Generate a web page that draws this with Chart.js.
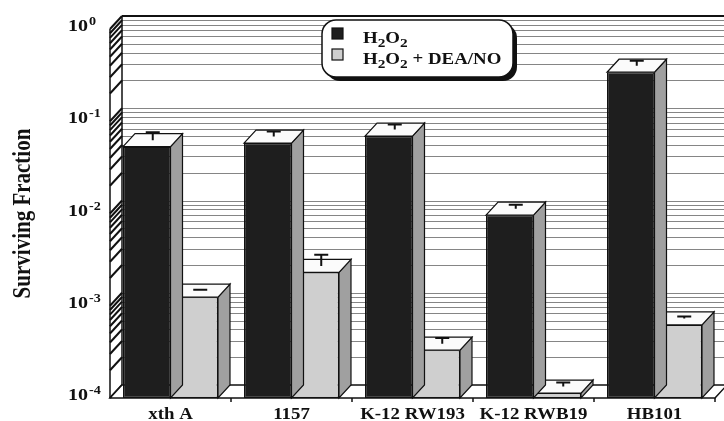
<!DOCTYPE html>
<html>
<head>
<meta charset="utf-8">
<script src="https://cdn.jsdelivr.net/npm/chart.js@4/dist/chart.umd.min.js"></script>
<style>
  html, body { margin: 0; padding: 0; background: #fff; }
  canvas { display: block; }
</style>
</head>
<body>
<canvas id="c" width="724" height="421"></canvas>
<script>
// Strains tested
const categories = ['xth A', '1157', 'K-12 RW193', 'K-12 RWB19', 'HB101'];
// Surviving fraction after H2O2 alone
const h2o2 = [0.053, 0.058, 0.069, 0.0096, 0.34];
const h2o2Err = [0.0116, 0.0077, 0.0092, 0.001, 0.045];
// Surviving fraction after H2O2 + DEA/NO
const h2o2DeaNo = [0.00124, 0.0023, 0.00033, 0.000113, 0.00062];
const h2o2DeaNoErr = [0.00003, 0.00073, 0.00005, 0.000012, 0.00003];
// Decade exponents shown on the y axis (10^n)
const yTickExponents = [0, -1, -2, -3, -4];
const seriesLabels = ['H\u2082O\u2082', 'H\u2082O\u2082 + DEA/NO'];

const SERIF = '"Liberation Serif", "Times New Roman", serif';
const STRETCH = 1.18;      // wide lettering
const DX = 12, DY = 13;    // depth offset of the 3-D boxes
const errorSets = [h2o2Err, h2o2DeaNoErr];

function stretchedText(ctx, text, x, y, size, align) {
  ctx.save();
  ctx.font = `bold ${size}px ${SERIF}`;
  ctx.textBaseline = 'alphabetic';
  ctx.textAlign = align || 'left';
  ctx.translate(x, y);
  ctx.scale(STRETCH, 1);
  ctx.fillText(text, 0, 0);
  ctx.restore();
}

// Left-aligned text where "₂" is set as a lowered, smaller 2
function chemText(ctx, text, x, y, size) {
  ctx.save();
  ctx.translate(x, y);
  ctx.scale(STRETCH, 1);
  ctx.textBaseline = 'alphabetic';
  ctx.textAlign = 'left';
  let cx = 0;
  for (const ch of text) {
    if (ch === '\u2082') {
      ctx.font = `bold ${Math.round(size * 0.82)}px ${SERIF}`;
      ctx.fillText('2', cx, 4);
      cx += ctx.measureText('2').width;
    } else {
      ctx.font = `bold ${size}px ${SERIF}`;
      ctx.fillText(ch, cx, 0);
      cx += ctx.measureText(ch).width;
    }
  }
  ctx.restore();
}

function poly(ctx, pts, fill, stroke, lw) {
  ctx.beginPath();
  ctx.moveTo(pts[0][0], pts[0][1]);
  for (let i = 1; i < pts.length; i++) ctx.lineTo(pts[i][0], pts[i][1]);
  ctx.closePath();
  if (fill) { ctx.fillStyle = fill; ctx.fill(); }
  if (stroke) { ctx.strokeStyle = stroke; ctx.lineWidth = lw || 1; ctx.stroke(); }
}

function roundRect(ctx, x, y, w, h, r) {
  ctx.beginPath();
  ctx.moveTo(x + r, y);
  ctx.lineTo(x + w - r, y);
  ctx.arcTo(x + w, y, x + w, y + r, r);
  ctx.lineTo(x + w, y + h - r);
  ctx.arcTo(x + w, y + h, x + w - r, y + h, r);
  ctx.lineTo(x + r, y + h);
  ctx.arcTo(x, y + h, x, y + h - r, r);
  ctx.lineTo(x, y + r);
  ctx.arcTo(x, y, x + r, y, r);
  ctx.closePath();
}

const boxPlugin = {
  id: 'box3d',
  beforeDatasetsDraw(chart) {
    const { ctx, chartArea: a, scales: { x, y } } = chart;
    const lo = Math.min(...yTickExponents), hi = Math.max(...yTickExponents);
    const steps = [];
    for (let e = lo; e < hi; e++) for (let k = 1; k < 10; k++) steps.push(k * Math.pow(10, e));
    steps.push(Math.pow(10, hi));

    ctx.save();
    // back wall grid, one line per log step
    ctx.strokeStyle = '#858585';
    ctx.lineWidth = 1;
    steps.forEach(v => {
      const py = Math.round(y.getPixelForValue(v) - DY) + 0.5;
      ctx.beginPath();
      ctx.moveTo(a.left + DX, py);
      ctx.lineTo(chart.width, py);
      ctx.stroke();
    });
    // hatched left wall
    ctx.strokeStyle = '#111';
    ctx.lineWidth = 2;
    steps.forEach(v => {
      const py = y.getPixelForValue(v);
      ctx.beginPath();
      ctx.moveTo(a.left, py);
      ctx.lineTo(a.left + DX, py - DY);
      ctx.stroke();
    });
    ctx.lineWidth = 1.5;
    ctx.beginPath();
    ctx.moveTo(a.left, a.top); ctx.lineTo(a.left, a.bottom);
    ctx.moveTo(a.left + DX, a.top - DY); ctx.lineTo(a.left + DX, a.bottom - DY);
    ctx.stroke();
    // top edge of the wall
    ctx.lineWidth = 2;
    ctx.beginPath();
    ctx.moveTo(a.left + DX, a.top - DY);
    ctx.lineTo(chart.width, a.top - DY);
    ctx.stroke();
    // floor
    poly(ctx, [[a.left, a.bottom], [a.right, a.bottom], [a.right + DX, a.bottom - DY], [a.left + DX, a.bottom - DY]], '#fff', '#111', 1.5);
    // tick marks between categories on the floor edge
    ctx.lineWidth = 1.5;
    for (let i = 0; i < categories.length; i++) {
      const px = i < categories.length - 1
        ? (x.getPixelForValue(i) + x.getPixelForValue(i + 1)) / 2
        : a.right;
      ctx.beginPath();
      ctx.moveTo(px, a.bottom);
      ctx.lineTo(px, a.bottom + 4);
      ctx.stroke();
    }
    ctx.restore();
  },
  afterDatasetDraw(chart, args) {
    const { ctx } = chart;
    const y = chart.scales.y;
    const errs = errorSets[args.index];
    const ds = chart.data.datasets[args.index];
    ctx.save();
    args.meta.data.forEach((bar, i) => {
      const p = bar.getProps(['x', 'y', 'base', 'width'], true);
      const xl = p.x - p.width / 2, xr = p.x + p.width / 2;
      // side face
      poly(ctx, [[xr, p.y], [xr + DX, p.y - DY], [xr + DX, p.base - DY], [xr, p.base]], '#a0a0a0', '#111', 1.2);
      // top face
      poly(ctx, [[xl, p.y], [xr, p.y], [xr + DX, p.y - DY], [xl + DX, p.y - DY]], '#fbfbfb', '#111', 1.2);
      // error bar on the centre of the top face
      const cx = p.x + DX / 2;
      const y0 = p.y - DY / 2;
      const y1 = y.getPixelForValue(ds.data[i] + errs[i]) - DY / 2;
      ctx.strokeStyle = '#111';
      ctx.lineWidth = 2;
      ctx.beginPath();
      ctx.moveTo(cx, y0); ctx.lineTo(cx, y1);
      ctx.moveTo(cx - 7, y1); ctx.lineTo(cx + 7, y1);
      ctx.stroke();
    });
    ctx.restore();
  },
  afterDraw(chart) {
    const { ctx, chartArea: a, scales: { x, y } } = chart;
    ctx.save();
    ctx.fillStyle = '#111';
    // y tick labels 10^n
    yTickExponents.forEach(e => {
      const py = y.getPixelForValue(Math.pow(10, e)) + 2;
      stretchedText(ctx, '10', 68, py, 17, 'left');
      stretchedText(ctx, String(e), 89, py - 6, 12, 'left');
    });
    // category labels
    categories.forEach((c, i) => {
      stretchedText(ctx, c, x.getPixelForValue(i), 419, 16, 'center');
    });
    // y axis title
    ctx.save();
    ctx.translate(30, (a.top + a.bottom) / 2);
    ctx.rotate(-Math.PI / 2);
    ctx.scale(1, STRETCH);
    ctx.font = `bold 21px ${SERIF}`;
    ctx.textAlign = 'center';
    ctx.textBaseline = 'alphabetic';
    ctx.fillText('Surviving Fraction', 0, 0);
    ctx.restore();

    // legend box with drop shadow
    const lx = 322, ly = 20, lw = 191, lh = 57, r = 14;
    roundRect(ctx, lx + 4, ly + 4, lw, lh, r);
    ctx.fillStyle = '#111';
    ctx.fill();
    roundRect(ctx, lx, ly, lw, lh, r);
    ctx.fillStyle = '#fff';
    ctx.fill();
    ctx.strokeStyle = '#111';
    ctx.lineWidth = 1.5;
    ctx.stroke();
    chart.data.datasets.forEach((ds, i) => {
      const base = 43 + i * 21;
      ctx.fillStyle = ds.backgroundColor;
      ctx.fillRect(332, base - 15, 11, 11);
      ctx.strokeStyle = '#111';
      ctx.lineWidth = 1.2;
      ctx.strokeRect(332, base - 15, 11, 11);
      ctx.fillStyle = '#111';
      chemText(ctx, ds.label, 363, base, 16);
    });
    ctx.restore();
  }
};

new Chart(document.getElementById('c'), {
  type: 'bar',
  data: {
    labels: categories,
    datasets: [
      { label: seriesLabels[0], data: h2o2, backgroundColor: '#1e1e1e' },
      { label: seriesLabels[1], data: h2o2DeaNo, backgroundColor: '#cfcfcf' }
    ]
  },
  options: {
    responsive: false,
    animation: false,
    layout: { padding: { left: 110, right: 9, top: 29, bottom: 23 } },
    datasets: {
      bar: {
        categoryPercentage: 0.785,
        barPercentage: 1,
        borderColor: '#111',
        borderWidth: 1.2,
        borderSkipped: false,
        clip: false
      }
    },
    scales: {
      x: { display: false },
      y: { type: 'logarithmic', min: 1e-4, max: 1, display: false }
    },
    plugins: {
      legend: { display: false },
      tooltip: { enabled: false }
    }
  },
  plugins: [boxPlugin]
});
</script>
</body>
</html>
